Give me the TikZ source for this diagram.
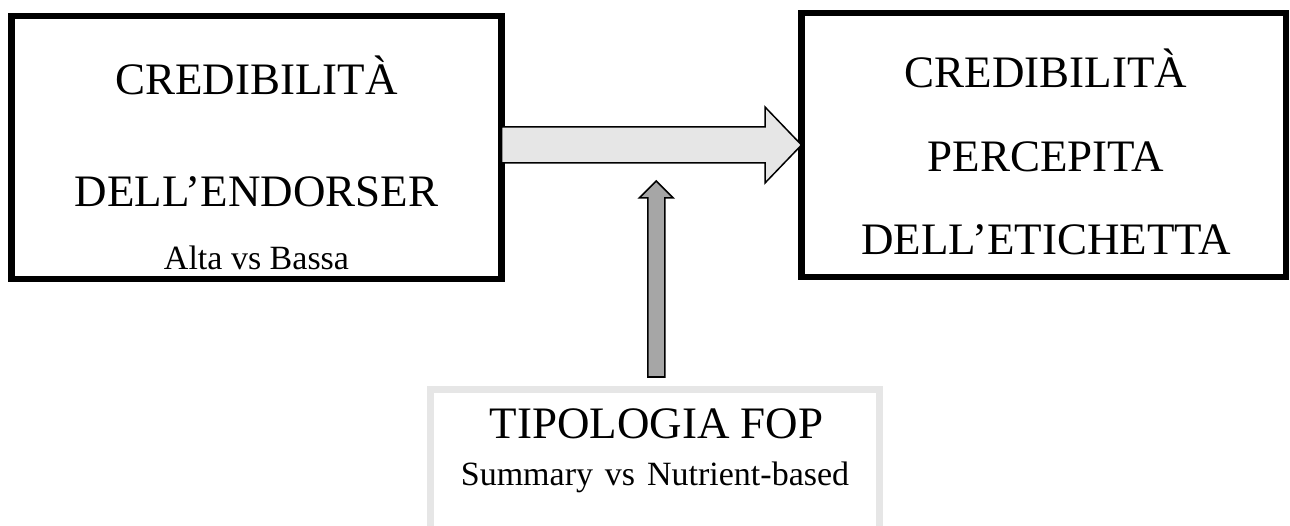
\documentclass[tikz,border=0pt]{standalone}
\usepackage{fontspec}
\setmainfont{Liberation Serif}
\usetikzlibrary{calc}
\definecolor{lightfill}{HTML}{E6E6E6}
\definecolor{midfill}{HTML}{A6A6A6}
\begin{document}
\begin{tikzpicture}[x=1pt,y=-1pt,
  frame/.style={draw=black, line width=6.5pt, fill=white, inner sep=0pt, outer sep=0pt},
  softframe/.style={draw=lightfill, line width=7pt, fill=white, inner sep=0pt, outer sep=0pt},
  bigtext/.style={font=\fontsize{45}{54}\selectfont, anchor=base, inner sep=0pt},
  smalltext/.style={font=\fontsize{34}{40}\selectfont, anchor=base, inner sep=0pt},
  flowarrow/.style={draw=black, line width=1.5pt, fill=lightfill, line join=miter},
  modarrow/.style={draw=black, line width=1.5pt, fill=midfill, line join=miter}]
\useasboundingbox (0,0) rectangle (1290,526);
\clip (0,0) rectangle (1290,526);

% boxes
\node[frame, minimum width=490pt, minimum height=263pt] (L) at (256.5,147.5) {};
\node[frame, minimum width=484.5pt, minimum height=264pt] (R) at (1043.75,145) {};
\node[softframe, minimum width=448.5pt, minimum height=200pt] (F) at (654.75,489) {};

% texts
\node[bigtext] (l1) at (256.5,95) {CREDIBILITÀ};
\node[bigtext] (l2) at (256.5,207) {DELL’ENDORSER};
\node[smalltext] (l3) at (256.5,270) {Alta vs Bassa};
\node[bigtext] (r1) at (1046,88) {CREDIBILITÀ};
\node[bigtext] (r2) at (1046,172) {PERCEPITA};
\node[bigtext] (r3) at (1046,255) {DELL’ETICHETTA};
\node[bigtext] (f1) at (656.5,438) {TIPOLOGIA FOP};
\node[smalltext] (f2) at (655,485) {Summary\hspace{0.35em}vs\hspace{0.35em}Nutrient-based};

% main block arrow from the endorser box to the label box
\draw[flowarrow]
  ($(L.east |- R.west)+(0,-18)$) --
  ($(R.west)+(-36.5,-18)$) --
  ($(R.west)+(-36.5,-38)$) --
  (R.west) --
  ($(R.west)+(-36.5,38)$) --
  ($(R.west)+(-36.5,18)$) --
  ($(L.east |- R.west)+(0,18)$) -- cycle;

% moderator arrow from the FOP box up to the main arrow
\coordinate (t) at ($(F.north |- R.west)+(1.5,36)$);
\coordinate (b) at ($(F.north)+(1.5,-12)$);
\draw[modarrow]
  ($(b)+(-8.5,0)$) --
  ($(t)+(-8.5,17)$) --
  ($(t)+(-17,17)$) --
  (t) --
  ($(t)+(17,17)$) --
  ($(t)+(8.5,17)$) --
  ($(b)+(8.5,0)$) -- cycle;
\end{tikzpicture}
\end{document}
